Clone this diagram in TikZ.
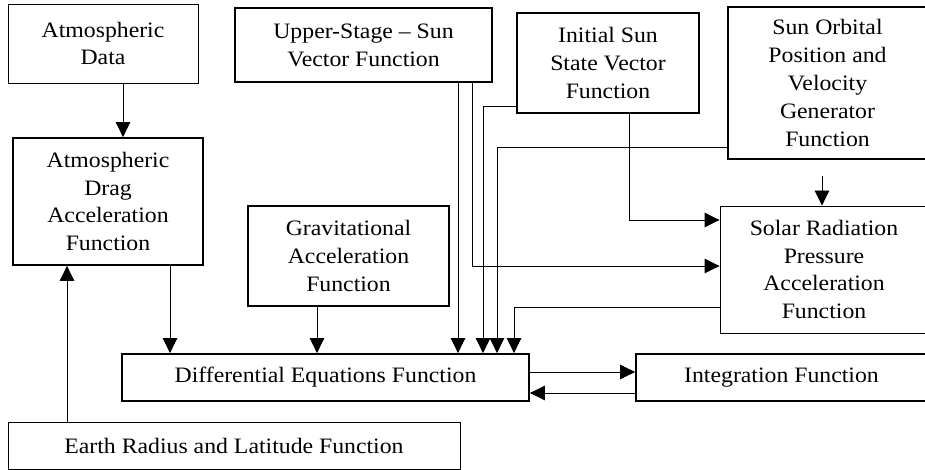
\documentclass[tikz,border=0pt]{standalone}
\usepackage{fontspec}
\setmainfont[FakeStretch=1.08]{Liberation Serif}
\usetikzlibrary{arrows.meta}
\begin{document}
\begin{tikzpicture}[x=1pt,y=-1pt,
  boxbase/.style={draw, inner sep=0pt, align=center, font=\fontsize{22}{27.8}\selectfont},
  thickbox/.style={boxbase, line width=1.8pt},
  thinbox/.style={boxbase, line width=0.9pt},
  arr/.style={line width=0.9pt, -{Triangle[length=15pt,width=14.5pt]}},
  conn/.style={line width=0.9pt}]
\useasboundingbox (0,0) rectangle (925,470);
\fill[white] (0,0) rectangle (925,470);
% boxes
\node[thinbox, minimum width=190pt, minimum height=79pt] (atm) at (103,43.5) {Atmospheric\\Data};
\node[thickbox, minimum width=257pt, minimum height=74pt] (ups) at (363.5,45) {Upper-Stage -- Sun\\Vector Function};
\node[thickbox, minimum width=182pt, minimum height=100pt] (init) at (608,63) {Initial Sun\\State Vector\\Function};
\node[thickbox, minimum width=199pt, minimum height=152pt] (sun) at (827.5,83) {Sun Orbital\\Position and\\Velocity\\Generator\\Function};
\node[thickbox, minimum width=190pt, minimum height=127pt] (drag) at (108,201.5) {Atmospheric\\Drag\\Acceleration\\Function};
\node[thickbox, minimum width=201pt, minimum height=100pt] (grav) at (348.5,256) {Gravitational\\Acceleration\\Function};
\node[thinbox, minimum width=208pt, minimum height=127pt] (solar) at (824,269.5) {Solar Radiation\\Pressure\\Acceleration\\Function};
\node[thickbox, minimum width=407pt, minimum height=47pt] (diff) at (325.5,377.5) {Differential Equations Function};
\node[thickbox, minimum width=291pt, minimum height=47pt] (integ) at (781.5,377.5) {Integration Function};
\node[thinbox, minimum width=452pt, minimum height=47pt] (earth) at (234,445.5) {Earth Radius and Latitude Function};
% connectors
\draw[arr] ([xshift=20pt]atm.south) -- ([xshift=20pt]atm.south |- drag.north);
\draw[arr] ([xshift=62pt]drag.south) -- ([xshift=62pt]drag.south |- diff.north);
\draw[arr] ([xshift=-167pt]earth.north) -- ([xshift=-167pt]earth.north |- drag.south);
\draw[arr] ([xshift=-31.5pt]grav.south) -- ([xshift=-31.5pt]grav.south |- diff.north);
\draw[arr] ([xshift=94.5pt]ups.south) -- ([xshift=94.5pt]ups.south |- diff.north);
\draw[arr] ([xshift=108.5pt]ups.south) |- ([yshift=3.5pt]solar.west);
\draw[arr] ([yshift=-43pt]init.west) -| ([xshift=157.5pt]diff.north);
\draw[arr] ([xshift=21pt]init.south) |- ([yshift=49.5pt]solar.west);
\draw[arr] ([yshift=-64pt]sun.west) -| ([xshift=171.5pt]diff.north);
\coordinate (sunout) at ([xshift=-5.5pt,yshift=-16pt]sun.south);
\draw[arr] (sunout) -- (sunout |- solar.north);
\draw[arr] ([yshift=-37.5pt]solar.west) -| ([xshift=188.5pt]diff.north);
\draw[arr] ([yshift=5.5pt]diff.east) -- ([yshift=5.5pt]integ.west);
\draw[arr] ([yshift=-15.5pt]integ.west) -- ([yshift=-15.5pt]diff.east);
\end{tikzpicture}
\end{document}
